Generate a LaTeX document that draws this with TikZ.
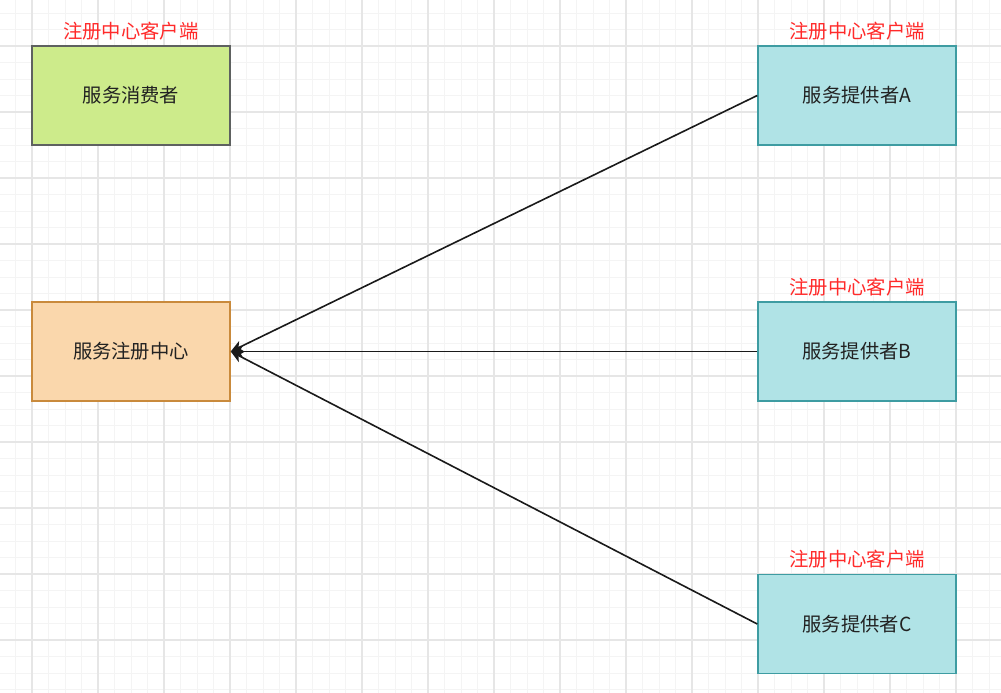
\documentclass[tikz,border=0pt]{standalone}
\usepackage{fontspec}
\setmainfont{Noto Sans CJK SC}
\usetikzlibrary{arrows.meta}
\definecolor{minorgrid}{HTML}{F4F4F4}
\definecolor{majorgrid}{HTML}{E6E6E6}
\definecolor{consfill}{HTML}{CDEB8B}
\definecolor{consdraw}{HTML}{5E6160}
\definecolor{regfill}{HTML}{FAD7AC}
\definecolor{regdraw}{HTML}{C98A3C}
\definecolor{provfill}{HTML}{B0E3E6}
\definecolor{provdraw}{HTML}{3E9CA2}
\definecolor{lblred}{HTML}{FF2A2A}
\definecolor{txt}{HTML}{222222}
\definecolor{linec}{HTML}{1A1A1A}
\tikzset{
  minorline/.style={draw=minorgrid, line width=0.75pt},
  majorline/.style={draw=majorgrid, line width=0.9pt},
  boxbase/.style={rectangle, minimum width=148.5pt, minimum height=74.25pt, line width=1.1pt, text=txt, font=\fontsize{14.5pt}{17pt}\selectfont, inner sep=0pt},
  consbox/.style={boxbase, fill=consfill, draw=consdraw},
  regbox/.style={boxbase, fill=regfill, draw=regdraw},
  provbox/.style={boxbase, fill=provfill, draw=provdraw},
  redlbl/.style={text=lblred, font=\fontsize{14.5pt}{17pt}\selectfont, inner sep=0pt},
  arr/.style={draw=linec, line width=1.2pt, -{Stealth[length=9pt,width=8.5pt,inset=2.5pt]}}
}
\begin{document}
\begin{tikzpicture}[x=0.75pt,y=-0.75pt]
\useasboundingbox (0,0) rectangle (1001,693);
\fill[white] (0,0) rectangle (1001,693);
% minor grid
\foreach \i in {0,...,61} {\draw[minorline] ({-1+16.5*\i},0) -- ++(0,693);}
\foreach \j in {0,...,41} {\draw[minorline] (0,{13+16.5*\j}) -- ++(1001,0);}
% major grid
\foreach \i in {0,...,14} {\draw[majorline] ({32+66*\i},0) -- ++(0,693);}
\foreach \j in {0,...,9} {\draw[majorline] (0,{46+66*\j}) -- ++(1001,0);}
% boxes
\node[consbox] (cons) at (131,95.5) {服务消费者};
\node[regbox] (reg) at (131,351.5) {服务注册中心};
\node[provbox] (pA) at (857,95.5) {服务提供者A};
\node[provbox] (pB) at (857,351.5) {服务提供者B};
\node[provbox] (pC) at (857,624) {服务提供者C};
% red labels
\node[redlbl] (lcons) at (131,31) {注册中心客户端};
\node[redlbl] (lA) at (857,31) {注册中心客户端};
\node[redlbl] (lB) at (857,287) {注册中心客户端};
\node[redlbl] (lC) at (857,559) {注册中心客户端};
% arrows
\draw[arr] (pA.west) -- (reg.east);
\draw[arr] (pB.west) -- (reg.east);
\draw[arr] (pC.west) -- (reg.east);
\end{tikzpicture}
\end{document}
